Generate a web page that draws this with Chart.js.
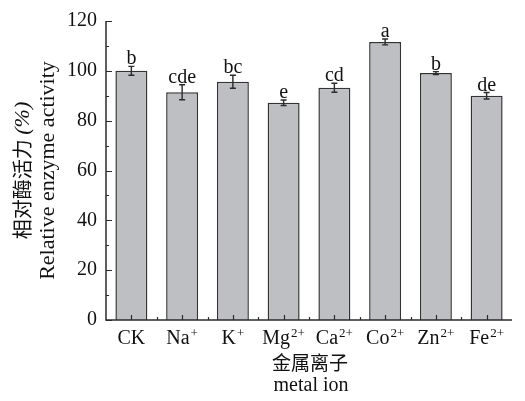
<!DOCTYPE html>
<html>
<head>
<meta charset="utf-8">
<script src="https://cdn.jsdelivr.net/npm/chart.js@4.4.1/dist/chart.umd.min.js"></script>
<style>
  html, body { margin: 0; padding: 0; background: #fff; }
  #wrap { width: 525px; height: 401px; }
</style>
</head>
<body>
<div id="wrap"><canvas id="c" width="525" height="401"></canvas></div>
<script>
// Metal ions tested and relative enzyme activity (%)
const categories = ['CK', 'Na⁺', 'K⁺', 'Mg²⁺', 'Ca²⁺', 'Co²⁺', 'Zn²⁺', 'Fe²⁺'];
// each label split into element symbol and charge superscript
const labelBase = ['CK', 'Na', 'K', 'Mg', 'Ca', 'Co', 'Zn', 'Fe'];
const labelCharge = ['', '+', '+', '2+', '2+', '2+', '2+', '2+'];
const activity = [100.0, 91.4, 95.6, 87.2, 93.2, 111.6, 99.1, 90.0];
const errors = [1.8, 3.0, 2.6, 1.1, 1.8, 1.2, 0.6, 1.3];
const letters = ['b', 'cde', 'bc', 'e', 'cd', 'a', 'b', 'de'];
const yTicks = [0, 20, 40, 60, 80, 100, 120];

const SERIF = "'Liberation Serif', 'Times New Roman', serif";
const CJK = "'Noto Sans CJK SC', sans-serif";
const INK = '#2b2b2b';

const decorPlugin = {
  id: 'decor',
  afterDatasetsDraw(chart) {
    const ctx = chart.ctx;
    const x = chart.scales.x, y = chart.scales.y;
    const area = chart.chartArea;
    const meta = chart.getDatasetMeta(0);
    ctx.save();

    // error bars and significance letters
    ctx.strokeStyle = INK;
    ctx.lineWidth = 1.4;
    ctx.fillStyle = '#111';
    ctx.font = '20px ' + SERIF;
    ctx.textAlign = 'center';
    ctx.textBaseline = 'alphabetic';
    meta.data.forEach((bar, i) => {
      const cx = bar.x;
      const yHi = y.getPixelForValue(activity[i] + errors[i]);
      const yLo = y.getPixelForValue(activity[i] - errors[i]);
      const cap = 3;
      ctx.beginPath();
      ctx.moveTo(cx, yHi); ctx.lineTo(cx, yLo);
      ctx.moveTo(cx - cap, yHi); ctx.lineTo(cx + cap, yHi);
      ctx.moveTo(cx - cap, yLo); ctx.lineTo(cx + cap, yLo);
      ctx.stroke();
      ctx.fillText(letters[i], cx, yHi - 2);
    });

    // axis lines
    ctx.lineWidth = 1.5;
    ctx.beginPath();
    ctx.moveTo(area.left, area.top);
    ctx.lineTo(area.left, area.bottom);
    ctx.lineTo(area.right, area.bottom);
    ctx.stroke();

    // inward y ticks: major at labels, minor halfway
    ctx.lineWidth = 1.2;
    ctx.beginPath();
    for (let v = 0; v <= 120; v += 10) {
      const py = Math.round(y.getPixelForValue(v)) + 0.5;
      const len = v % 20 === 0 ? 6 : 3;
      ctx.moveTo(area.left, py); ctx.lineTo(area.left + len, py);
    }
    // inward x ticks: major at categories, minor between them
    for (let i = 0; i < categories.length; i++) {
      const px = Math.round(x.getPixelForValue(i)) + 0.5;
      ctx.moveTo(px, area.bottom); ctx.lineTo(px, area.bottom - 5);
      const bx = Math.round(x.getPixelForValue(i + 0.5)) + 0.5;
      if (i < categories.length - 1) {
        ctx.moveTo(bx, area.bottom); ctx.lineTo(bx, area.bottom - 3);
      }
    }
    ctx.stroke();

    // category labels with raised charge
    ctx.fillStyle = '#111';
    ctx.textBaseline = 'alphabetic';
    ctx.textAlign = 'left';
    const baseY = area.bottom + 24;
    for (let i = 0; i < categories.length; i++) {
      const px = x.getPixelForValue(i);
      ctx.font = '20px ' + SERIF;
      const wb = ctx.measureText(labelBase[i]).width;
      ctx.font = '13px ' + SERIF;
      const ws = labelCharge[i] ? ctx.measureText(labelCharge[i]).width + 1 : 0;
      const start = px - (wb + ws) / 2;
      ctx.font = '20px ' + SERIF;
      ctx.fillText(labelBase[i], start, baseY);
      if (labelCharge[i]) {
        ctx.font = '13px ' + SERIF;
        ctx.fillText(labelCharge[i], start + wb + 1, baseY - 7);
      }
    }

    // axis titles
    ctx.textBaseline = 'middle';
    ctx.textAlign = 'center';
    const midX = (area.left + area.right) / 2;
    ctx.font = '19px ' + CJK;
    ctx.fillText('金属离子', midX + 1, 363);
    ctx.font = '20px ' + SERIF;
    ctx.fillText('metal ion', midX + 2, 386);

    // rotated y title, two lines
    const midY = (area.top + area.bottom) / 2;
    ctx.save();
    ctx.translate(48, midY);
    ctx.rotate(-Math.PI / 2);
    ctx.font = '22px ' + SERIF;
    ctx.fillText('Relative enzyme activity', 0, 0);
    ctx.restore();

    ctx.save();
    ctx.translate(22, midY);
    ctx.rotate(-Math.PI / 2);
    const cn = '相对酶活力 ';
    const pc = '(%)';
    ctx.font = '20px ' + CJK;
    const wCn = ctx.measureText(cn).width;
    ctx.font = 'italic 22px ' + SERIF;
    const wPc = ctx.measureText(pc).width;
    const start = -(wCn + wPc) / 2;
    ctx.textAlign = 'left';
    ctx.font = '20px ' + CJK;
    ctx.fillText(cn, start, 0);
    ctx.font = 'italic 22px ' + SERIF;
    ctx.fillText(pc, start + wCn, 1);
    ctx.restore();

    ctx.restore();
  }
};

new Chart(document.getElementById('c'), {
  type: 'bar',
  data: {
    labels: categories,
    datasets: [{
      data: activity,
      backgroundColor: '#bebfc3',
      borderColor: '#333333',
      borderWidth: 1.5,
      borderSkipped: 'bottom',
      barPercentage: 0.63,
      categoryPercentage: 1.0
    }]
  },
  options: {
    responsive: false,
    animation: false,
    devicePixelRatio: 1,
    layout: { padding: { top: 17, right: 13, left: 0, bottom: 0 } },
    plugins: { legend: { display: false }, tooltip: { enabled: false } },
    scales: {
      x: {
        offset: true,
        grid: { display: false, drawTicks: false },
        border: { display: false },
        ticks: { display: false },
        afterFit(s) { s.height = 81; }
      },
      y: {
        min: 0,
        max: 120,
        afterBuildTicks(s) { s.ticks = yTicks.map(v => ({ value: v })); },
        grid: { display: false, drawTicks: false },
        border: { display: false },
        ticks: {
          color: '#111',
          font: { family: SERIF, size: 20 },
          padding: 9
        },
        afterFit(s) { s.width = 106; }
      }
    }
  },
  plugins: [decorPlugin]
});
</script>
</body>
</html>
